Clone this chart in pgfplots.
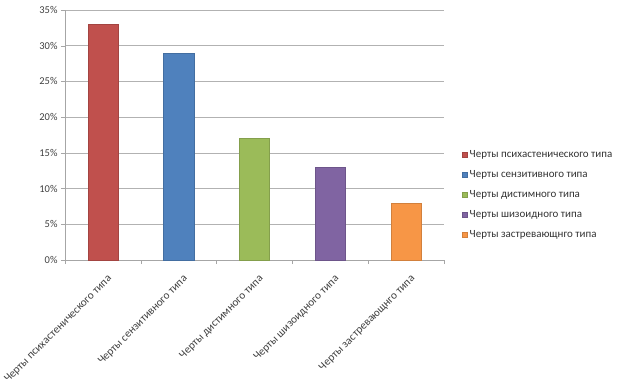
\documentclass[border=0pt]{standalone}
\usepackage{pgfplots}
\pgfplotsset{compat=1.18}
\usepackage{fontspec}
\setmainfont{Carlito}
\definecolor{c1}{HTML}{C0504D}
\definecolor{c2}{HTML}{4F81BD}
\definecolor{c3}{HTML}{9BBB59}
\definecolor{c4}{HTML}{8064A2}
\definecolor{c5}{HTML}{F79646}
\begin{document}
\begin{tikzpicture}[x=1bp,y=1bp]
\path[use as bounding box] (-65bp,-130bp) rectangle (559bp,260bp);
\begin{axis}[
  at={(0,0)}, anchor=south west,
  scale only axis, width=379bp, height=250bp,
  ymin=0, ymax=35, ytick={0,5,...,35},
  xmin=-0.5, xmax=4.5,
  xtick={-0.5,0.5,1.5,2.5,3.5,4.5},
  xticklabels={},
  extra x ticks={0,1,2,3,4},
  extra x tick labels={Черты психастенического типа,Черты сензитивного типа,Черты дистимного типа,Черты шизоидного типа,Черты застревающнго типа},
  extra x tick style={major tick length=0pt, grid=none,
    xticklabel style={rotate=45, anchor=north east, font=\fontsize{11.3}{12}\selectfont, text=black!75, inner sep=1pt, xshift=-6bp, yshift=-11.5bp}},
  axis x line*=bottom, axis y line*=left,
  axis line style={gray!70, -},
  tick style={gray!70},
  major tick length=4bp,
  xtick pos=bottom, ytick pos=left,
  tick align=outside,
  ymajorgrids, grid style={gray!60, line width=0.6pt},
  yticklabel={\pgfmathprintnumber{\tick}\%},
  /pgf/number format/assume math mode=true,
  yticklabel style={font=\fontsize{10.5}{11}\selectfont, text=black!75},
  ybar, bar width=30bp, bar shift=0pt,
  legend style={at={(1.04,0.26)}, anchor=west, draw=none, fill=none,
    font=\fontsize{11}{11.5}\selectfont, text=black!80, row sep=7.5bp,
    legend cell align=left},
  legend image code/.code={\fill[#1] (0bp,-2.5bp) rectangle (5bp,2.5bp);},
]
\addplot[fill=c1, draw=c1!85!black] coordinates {(0,33)};
\addplot[fill=c2, draw=c2!85!black] coordinates {(1,29)};
\addplot[fill=c3, draw=c3!85!black] coordinates {(2,17)};
\addplot[fill=c4, draw=c4!85!black] coordinates {(3,13)};
\addplot[fill=c5, draw=c5!85!black] coordinates {(4,8)};
\legend{Черты психастенического типа,Черты сензитивного типа,Черты дистимного  типа,Черты шизоидного типа,Черты застревающнго типа}
\end{axis}
\end{tikzpicture}
\end{document}
